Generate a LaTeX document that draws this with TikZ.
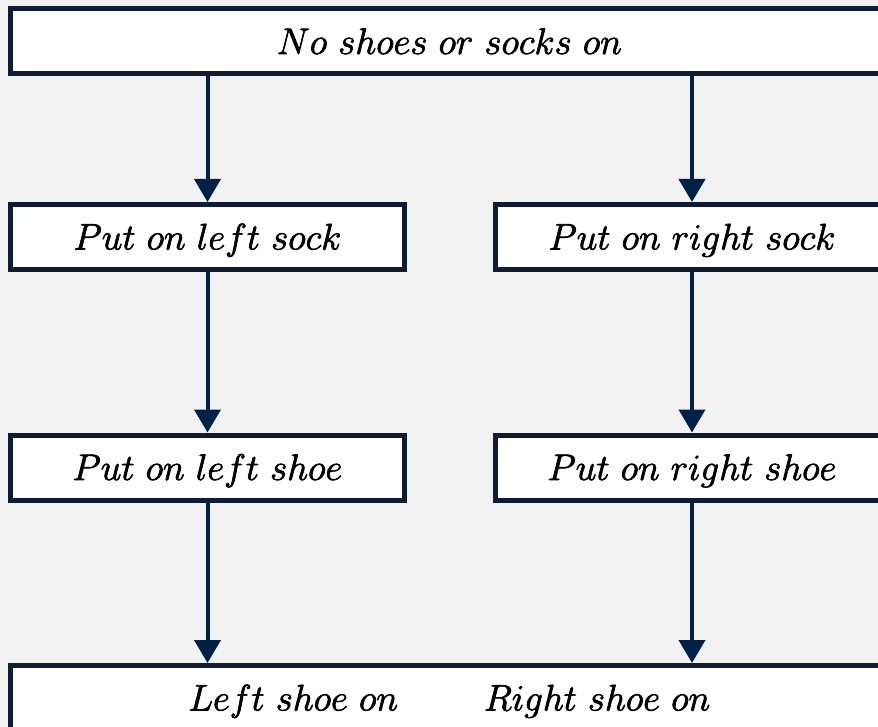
\RequirePackage{fix-cm}
\documentclass[tikz,border=0pt]{standalone}
\usetikzlibrary{arrows.meta}
\definecolor{bgcol}{RGB}{242,242,242}
\definecolor{boxline}{RGB}{14,28,52}
\definecolor{arrowcol}{RGB}{0,33,71}
% slightly heavier glyphs: fill and stroke the text outlines
\newcommand{\heavytext}{\special{pdf:literal direct 2 Tr 0.7 w 0 G}}
\begin{document}
\begin{tikzpicture}[x=1pt,y=-1pt,
  stepbox/.style={draw=boxline,line width=5pt,fill=white,
    minimum height=65pt,inner sep=0pt,text height=25pt,text depth=0pt,
    font=\fontsize{37}{44}\selectfont\heavytext},
  flow/.style={draw=arrowcol,line width=4pt,
    -{Triangle[width=26pt,length=23pt]}}]
  % page and background
  \useasboundingbox (0,0) rectangle (878,727);
  \clip (0,0) rectangle (878,727);
  \fill[bgcol] (0,0) rectangle (878,727);

  % boxes
  \node[stepbox,minimum width=878pt] (start) at (449.5,41.5) {$No~shoes~or~socks~on$};
  \node[stepbox,minimum width=394pt] (lsock) at (207.5,237) {$Put~on~left~sock$};
  \node[stepbox,minimum width=394pt] (rsock) at (692,237) {$Put~on~right~sock$};
  \node[stepbox,minimum width=394pt] (lshoe) at (207.5,467.5) {$Put~on~left~shoe$};
  \node[stepbox,minimum width=394pt] (rshoe) at (692,467.5) {$Put~on~right~shoe$};
  \node[stepbox,minimum width=878pt] (done) at (449.5,698) {$Left~shoe~on\hspace{86pt}Right~shoe~on$};

  % connectors
  \draw[flow] (start.south -| lsock.north) -- (lsock.north);
  \draw[flow] (start.south -| rsock.north) -- (rsock.north);
  \draw[flow] (lsock) -- (lshoe);
  \draw[flow] (rsock) -- (rshoe);
  \draw[flow] (lshoe.south) -- (lshoe.south |- done.north);
  \draw[flow] (rshoe.south) -- (rshoe.south |- done.north);
\end{tikzpicture}
\end{document}
